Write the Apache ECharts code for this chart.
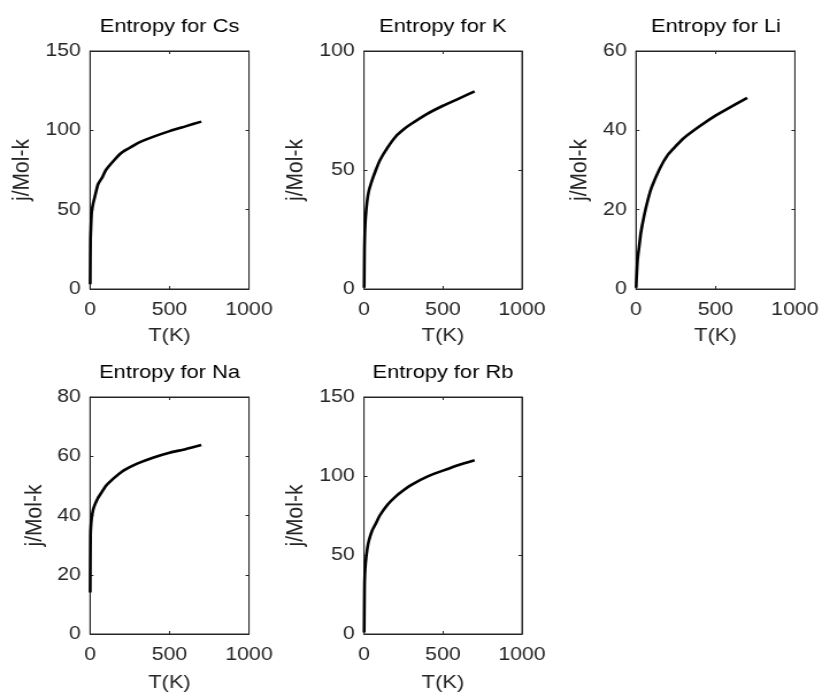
<!DOCTYPE html>
<html>
<head>
<meta charset="utf-8">
<script src="https://cdn.jsdelivr.net/npm/echarts@6/dist/echarts.min.js"></script>
<style>
  html, body { margin: 0; padding: 0; background: #fff; overflow: hidden; }
  /* the figure is laid out narrower and widened on screen */
  #chart { width: 715px; height: 693px; transform: scaleX(1.14965); transform-origin: 0 0; }
</style>
</head>
<body>
<div id="chart"></div>
<script>
// Temperature samples (K) shared by every element
const temps = [1, 3, 5, 10, 20, 30, 50, 75, 100, 150, 200, 250, 300, 400, 500, 600, 700];

// Entropy, j/Mol-k
const entropyCs = [3, 31, 37, 48, 54, 58, 66, 70, 75, 81, 86, 89, 92, 96, 99.5, 102.5, 105.5];
const entropyK  = [0.5, 17, 23, 30, 37, 41, 45.4, 50, 54, 59.5, 64, 67, 69.4, 73.6, 77, 80, 83];
const entropyLi = [0.3, 2.5, 4, 7.4, 10.7, 14, 18.3, 22.5, 25.8, 30.4, 33.8, 36, 38, 41, 43.7, 46, 48.2];
const entropyNa = [14, 33, 36, 39, 42, 43.6, 45.9, 48, 50, 52.6, 54.8, 56.3, 57.6, 59.6, 61.2, 62.4, 63.8];
const entropyRb = [1, 28, 37, 45, 53.5, 58.7, 65, 70, 75, 82, 87, 91, 94.4, 99.6, 103.4, 107, 110];

// Axis ranges
const elements = ['Cs', 'K', 'Li', 'Na', 'Rb'];
const yMax = [150, 100, 60, 80, 150];
const yStep = [50, 50, 20, 20, 50];
const xMax = 1000;
const xStep = 500;

const seriesValues = [entropyCs, entropyK, entropyLi, entropyNa, entropyRb];

// panel placement (2 x 3 layout)
const colLeft = [78.3, 316.6, 553.2];
const colWidth = [138.3, 137.4, 139.2];
const rowTop = [51, 397];
const rowHeight = 238;
const xNameGap = [37, 39];

const FONT = 'Liberation Sans';
const AX = '#262626';

const grids = [], xAxes = [], yAxes = [], titles = [], series = [];

elements.forEach((el, i) => {
  const col = i % 3, row = Math.floor(i / 3);
  grids.push({
    left: colLeft[col], top: rowTop[row], width: colWidth[col], height: rowHeight,
    show: true, borderColor: AX, borderWidth: 1, backgroundColor: '#fff'
  });
  titles.push({
    text: 'Entropy for ' + el,
    left: colLeft[col] + colWidth[col] / 2,
    top: rowTop[row] - 34,
    textAlign: 'center',
    padding: 0,
    textStyle: { fontFamily: FONT, fontSize: 19, fontWeight: 'normal', color: '#000' }
  });
  const tick = { show: true, inside: true, length: 3, lineStyle: { color: AX, width: 1 } };
  // bottom x axis with labels
  xAxes.push({
    type: 'value', gridIndex: i, position: 'bottom', min: 0, max: xMax, interval: xStep,
    name: 'T(K)', nameLocation: 'middle', nameGap: xNameGap[row],
    nameTextStyle: { fontFamily: FONT, fontSize: 19, color: AX },
    axisLine: { show: true, onZero: false, lineStyle: { color: AX, width: 1 } },
    axisTick: tick,
    axisLabel: { fontFamily: FONT, fontSize: 18.5, color: AX, margin: 11, formatter: v => String(v) },
    splitLine: { show: false }
  });
  // top x axis: ticks only
  xAxes.push({
    type: 'value', gridIndex: i, position: 'top', min: 0, max: xMax, interval: xStep,
    axisLine: { show: true, onZero: false, lineStyle: { color: AX, width: 1 } },
    axisTick: tick, axisLabel: { show: false }, splitLine: { show: false }
  });
  const labelDigits = String(yMax[i]).length;
  yAxes.push({
    type: 'value', gridIndex: i, position: 'left', min: 0, max: yMax[i], interval: yStep[i],
    name: 'j/Mol-k', nameLocation: 'middle', nameGap: labelDigits === 3 ? 49 : 38,
    nameTextStyle: { fontFamily: FONT, fontSize: 21, color: AX },
    axisLine: { show: true, onZero: false, lineStyle: { color: AX, width: 1 } },
    axisTick: tick,
    axisLabel: { fontFamily: FONT, fontSize: 18.5, color: AX, margin: 8, formatter: v => String(v) },
    splitLine: { show: false }
  });
  yAxes.push({
    type: 'value', gridIndex: i, position: 'right', min: 0, max: yMax[i], interval: yStep[i],
    axisLine: { show: true, onZero: false, lineStyle: { color: AX, width: 1 } },
    axisTick: tick, axisLabel: { show: false }, splitLine: { show: false }
  });
  series.push({
    type: 'line', name: el, xAxisIndex: 2 * i, yAxisIndex: 2 * i,
    data: temps.map((t, k) => [t, seriesValues[i][k]]),
    showSymbol: false, smooth: 0.2,
    lineStyle: { color: '#000', width: 2.6 },
    silent: true
  });
});

const chart = echarts.init(document.getElementById('chart'), null, { renderer: 'canvas' });
chart.setOption({
  animation: false,
  backgroundColor: '#fff',
  title: titles,
  grid: grids,
  xAxis: xAxes,
  yAxis: yAxes,
  series: series
});
</script>
</body>
</html>
